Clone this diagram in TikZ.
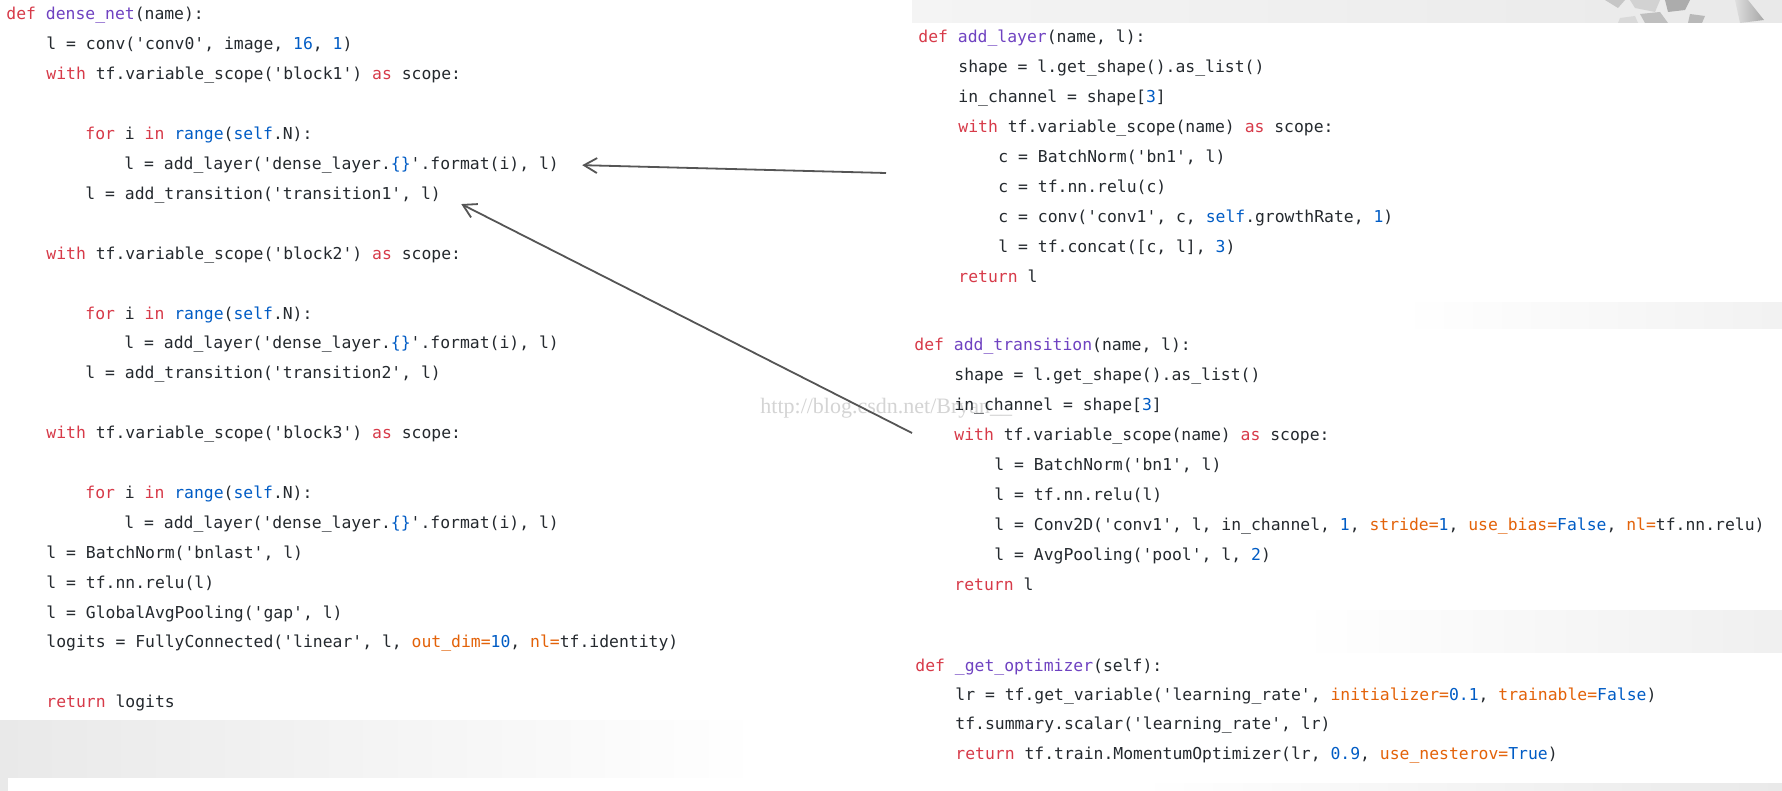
\documentclass[tikz,border=0pt]{standalone}
\usepackage{fontspec}
\setmainfont{Liberation Serif}
\setmonofont{DejaVu Sans Mono}
\usetikzlibrary{arrows.meta}
\definecolor{txc}{HTML}{24292E}
\definecolor{kwc}{HTML}{D73A49}
\definecolor{fnc}{HTML}{6F42C1}
\definecolor{nbc}{HTML}{005CC5}
\definecolor{kac}{HTML}{E36209}
\definecolor{bgc}{HTML}{E9E9E9}
\definecolor{wmc}{HTML}{D4D4D4}
\definecolor{arc}{HTML}{555555}
\newcommand{\kw}[1]{\textcolor{kwc}{#1}}
\newcommand{\fn}[1]{\textcolor{fnc}{#1}}
\newcommand{\nb}[1]{\textcolor{nbc}{#1}}
\newcommand{\ka}[1]{\textcolor{kac}{#1}}
\begin{document}
\begin{tikzpicture}[x=0.5pt,y=-0.5pt,
  code/.style={anchor=base west,inner sep=0pt,text=txc,font=\ttfamily\fontsize{8.2pt}{10pt}\selectfont},
  wmark/.style={anchor=base west,inner sep=0pt,text=wmc,font=\fontsize{11pt}{13pt}\selectfont},
  arr/.style={draw=arc,line width=0.9pt,-{Straight Barb[length=6.5pt,width=7.5pt]}}]
\useasboundingbox (0,0) rectangle (1782,791);
\fill[white] (0,0) rectangle (1782,791);
\shade[left color=bgc!50!white,right color=bgc] (912,0) rectangle (1782,23);
\fill[gray!45] (1605,0) -- (1625,0) -- (1618,8) -- cycle;
\fill[gray!35] (1630,0) -- (1660,0) -- (1655,12) -- (1635,8) -- cycle;
\fill[gray!65] (1665,0) -- (1690,0) -- (1685,10) -- (1668,12) -- cycle;
\fill[gray!50] (1640,14) -- (1660,12) -- (1668,23) -- (1645,23) -- cycle;
\fill[gray!30] (1620,18) -- (1635,16) -- (1638,23) -- (1618,23) -- cycle;
\fill[gray!55] (1690,14) -- (1705,16) -- (1702,23) -- (1688,23) -- cycle;
\shade[left color=gray!25,right color=gray!70] (1735,0) -- (1748,0) -- (1764,20) -- (1740,23) -- cycle;
\shade[left color=white,right color=bgc!60!white] (1400,302) rectangle (1782,328);
\shade[left color=white,right color=bgc!70!white] (1300,610) rectangle (1782,652);
\shade[left color=bgc,right color=white] (0,720) rectangle (760,777);
\fill[bgc] (0,777) rectangle (8,791);
\shade[left color=white,right color=bgc] (1140,783) rectangle (1782,791);

\node[wmark] (w) at (760,413) {http://blog.csdn.net/Bryan\_\_};

\node[code] (d0) at (6,20) {\kw{def} \fn{dense\_net}(name):};
\node[code] (d1) at (46,49.9) {l = conv('conv0', image, \nb{16}, \nb{1})};
\node[code] (d2) at (46,79.8) {\kw{with} tf.variable\_scope('block1') \kw{as} scope:};
\node[code] (d4) at (85,139.6) {\kw{for} i \kw{in} \nb{range}(\nb{self}.N):};
\node[code] (d5) at (124,169.5) {l = add\_layer('dense\_layer.\nb{\{\}}'.format(i), l)};
\node[code] (d6) at (85,199.4) {l = add\_transition('transition1', l)};
\node[code] (d8) at (46,259.2) {\kw{with} tf.variable\_scope('block2') \kw{as} scope:};
\node[code] (d10) at (85,319) {\kw{for} i \kw{in} \nb{range}(\nb{self}.N):};
\node[code] (d11) at (124,348.9) {l = add\_layer('dense\_layer.\nb{\{\}}'.format(i), l)};
\node[code] (d12) at (85,378.8) {l = add\_transition('transition2', l)};
\node[code] (d14) at (46,438.6) {\kw{with} tf.variable\_scope('block3') \kw{as} scope:};
\node[code] (d16) at (85,498.4) {\kw{for} i \kw{in} \nb{range}(\nb{self}.N):};
\node[code] (d17) at (124,528.3) {l = add\_layer('dense\_layer.\nb{\{\}}'.format(i), l)};
\node[code] (d18) at (46,558.2) {l = BatchNorm('bnlast', l)};
\node[code] (d19) at (46,588.1) {l = tf.nn.relu(l)};
\node[code] (d20) at (46,618) {l = GlobalAvgPooling('gap', l)};
\node[code] (d21) at (46,647.9) {logits = FullyConnected('linear', l, \ka{out\_dim=}\nb{10}, \ka{nl=}tf.identity)};
\node[code] (d23) at (46,707.7) {\kw{return} logits};

\node[code] (a0) at (918,43) {\kw{def} \fn{add\_layer}(name, l):};
\node[code] (a1) at (958,73) {shape = l.get\_shape().as\_list()};
\node[code] (a2) at (958,103) {in\_channel = shape[\nb{3}]};
\node[code] (a3) at (958,133) {\kw{with} tf.variable\_scope(name) \kw{as} scope:};
\node[code] (a4) at (998,163) {c = BatchNorm('bn1', l)};
\node[code] (a5) at (998,193) {c = tf.nn.relu(c)};
\node[code] (a6) at (998,223) {c = conv('conv1', c, \nb{self}.growthRate, \nb{1})};
\node[code] (a7) at (998,253) {l = tf.concat([c, l], \nb{3})};
\node[code] (a8) at (958,283) {\kw{return} l};

\node[code] (t0) at (914,350) {\kw{def} \fn{add\_transition}(name, l):};
\node[code] (t1) at (954,380) {shape = l.get\_shape().as\_list()};
\node[code] (t2) at (954,410) {in\_channel = shape[\nb{3}]};
\node[code] (t3) at (954,440) {\kw{with} tf.variable\_scope(name) \kw{as} scope:};
\node[code] (t4) at (994,470) {l = BatchNorm('bn1', l)};
\node[code] (t5) at (994,500) {l = tf.nn.relu(l)};
\node[code] (t6) at (994,530) {l = Conv2D('conv1', l, in\_channel, \nb{1}, \ka{stride=}\nb{1}, \ka{use\_bias=}\nb{False}, \ka{nl=}tf.nn.relu)};
\node[code] (t7) at (994,560) {l = AvgPooling('pool', l, \nb{2})};
\node[code] (t8) at (954,590) {\kw{return} l};

\node[code] (o0) at (915,671) {\kw{def} \fn{\_get\_optimizer}(self):};
\node[code] (o1) at (955,700) {lr = tf.get\_variable('learning\_rate', \ka{initializer=}\nb{0.1}, \ka{trainable=}\nb{False})};
\node[code] (o2) at (955,729) {tf.summary.scalar('learning\_rate', lr)};
\node[code] (o3) at (955,759) {\kw{return} tf.train.MomentumOptimizer(lr, \nb{0.9}, \ka{use\_nesterov=}\nb{True})};

\coordinate (p) at (886,173);
\coordinate (q) at (912,433);
\draw[arr] (p) -- ([xshift=11.5pt]d5.east);
\draw[arr] (q) -- ([xshift=10pt,yshift=-4.5pt]d6.east);
\end{tikzpicture}
\end{document}
